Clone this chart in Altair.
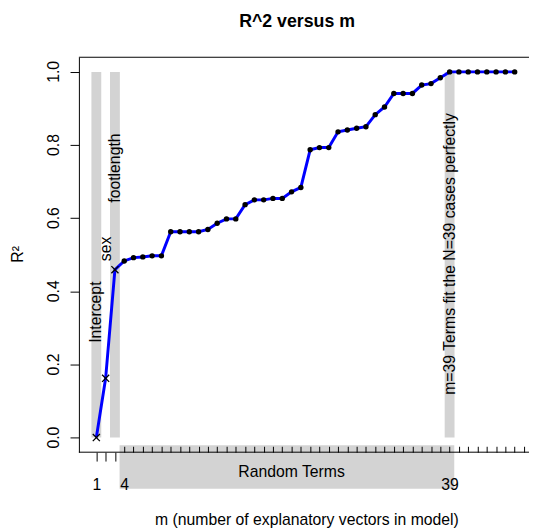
import altair as alt
import pandas as pd

# ---- data ----
m_values = list(range(1, 47))
r2_values = [0.000, 0.162, 0.459, 0.483, 0.492, 0.494, 0.497, 0.497, 0.563, 0.563,
             0.563, 0.563, 0.569, 0.586, 0.598, 0.598, 0.637, 0.650, 0.650, 0.654,
             0.654, 0.672, 0.684, 0.787, 0.793, 0.793, 0.836, 0.841, 0.846, 0.850,
             0.883, 0.904, 0.941, 0.941, 0.941, 0.964, 0.968, 0.984, 1.000, 1.000,
             1.000, 1.000, 1.000, 1.000, 1.000, 1.000]
n_named = 3  # Intercept, sex, footlength drawn as "x"

label_m = [1, 2, 3, 39]
label_text = ["Intercept", "sex", "footlength", "m=39 Terms fit the N=39 cases perfectly"]
label_y = [0.343, 0.516, 0.737, 0.502]

band_m = [1, 3, 39]
band_half = 0.53
band_low, band_high = 0.0, 1.0

random_first, random_last = 4, 39
random_label = "Random Terms"
random_label_m = 22
random_tick_values = list(range(4, 48))

x_tick_values = [1, 2, 3, 4, 39]
y_tick_values = [0.0, 0.2, 0.4, 0.6, 0.8, 1.0]
y_title = "R²"
x_title = "m (number of explanatory vectors in model)"
chart_title = "R^2 versus m"

# plot box (R's usr region) and the full drawing width
box_x = [-0.875, 47.54]
box_y = [-0.04, 1.04]
full_x = [-8.502, 47.54]

# ---- tables ----
df = pd.DataFrame({"m": m_values, "r2": r2_values})
df_dots = df[df["m"] > n_named]
df_x = df[df["m"] <= n_named]
bands = pd.DataFrame({"lo": [b - band_half for b in band_m],
                      "hi": [b + band_half for b in band_m],
                      "bot": [band_low] * len(band_m),
                      "top": [band_high] * len(band_m)})
labels = pd.DataFrame({"m": label_m, "y": label_y, "t": label_text})
rand = pd.DataFrame({"start": [random_first - 0.5], "end": [random_last + 0.5]})
rand_lab = pd.DataFrame({"m": [random_label_m], "t": [random_label]})
ytick_df = pd.DataFrame({"v": y_tick_values})
ytitle_df = pd.DataFrame({"t": [y_title]})
box_df = pd.DataFrame({"x0": [box_x[0]] * 2, "x1": [box_x[1]] * 2, "y": box_y})

W, H = 529, 401
LEFT = 72  # pixels from the drawing's left edge to the plot box
FONT = "Liberation Sans"
FS = 16
xs = alt.Scale(domain=full_x, nice=False, zero=False)
ys = alt.Scale(domain=box_y, nice=False, zero=False)

yaxis = alt.Axis(orient="left", offset=-LEFT, values=y_tick_values, labels=False, tickSize=9,
                 grid=False, domainColor="black", tickColor="black", title=None)

box_layer = alt.Chart(box_df).mark_rule(color="black", strokeWidth=1).encode(
    x=alt.X("x0:Q", scale=xs, axis=None),
    x2="x1:Q",
    y=alt.Y("y:Q", scale=ys, axis=None),
)

bands_layer = alt.Chart(bands).mark_rect(color="#D3D3D3").encode(
    x=alt.X("lo:Q", scale=xs, axis=None),
    x2="hi:Q",
    y=alt.Y("bot:Q", scale=ys, axis=None),
    y2="top:Q",
)

rand_layer = alt.Chart(rand).mark_rect(color="#D3D3D3").encode(
    x=alt.X("start:Q", scale=xs, axis=alt.Axis(orient="top", offset=-H, values=random_tick_values,
                                               tickSize=6, labels=False, grid=False, domain=False,
                                               tickColor="black", title=None, zindex=1)),
    x2="end:Q",
    y=alt.value(394),
    y2=alt.value(438),
)

rand_text = alt.Chart(rand_lab).mark_text(fontSize=FS, font=FONT, color="black",
                                          align="center", baseline="middle").encode(
    x=alt.X("m:Q", scale=xs, axis=None),
    y=alt.value(421),
    text="t:N",
)

xaxis = alt.Axis(orient="bottom", values=x_tick_values, domain=False,
                 labelExpr="(datum.value == 2 || datum.value == 3) ? '' : datum.label",
                 tickOpacity={"condition": {"test": "datum.value > 3", "value": 0}, "value": 1},
                 tickSize=9, labelPadding=16, labelFontSize=FS, labelColor="black",
                 tickColor="black", grid=False, zindex=1,
                 title=x_title, titleX=303, titleY=68,
                 titleAlign="center", titleBaseline="middle", titleFontWeight="normal",
                 titleFontSize=FS, titleColor="black")

line_layer = alt.Chart(df).mark_line(color="#0000FF", strokeWidth=3).encode(
    x=alt.X("m:Q", scale=xs, axis=xaxis),
    y=alt.Y("r2:Q", scale=ys, axis=yaxis),
)

dots_layer = alt.Chart(df_dots).mark_circle(color="black", size=30, opacity=1).encode(
    x=alt.X("m:Q", scale=xs, axis=None),
    y=alt.Y("r2:Q", scale=ys, axis=None),
)

x_layer = alt.Chart(df_x).mark_point(shape="M-1,-1L1,1M-1,1L1,-1", filled=False, color="black",
                                     strokeWidth=1.3, size=52, opacity=1).encode(
    x=alt.X("m:Q", scale=xs, axis=None),
    y=alt.Y("r2:Q", scale=ys, axis=None),
)

text_layer = alt.Chart(labels).mark_text(angle=270, fontSize=FS, font=FONT, color="black",
                                         align="center", baseline="middle").encode(
    x=alt.X("m:Q", scale=xs, axis=None),
    y=alt.Y("y:Q", scale=ys, axis=None),
    text="t:N",
)

# y tick labels, rotated as in the reference, placed through the scales
ytick_layer = alt.Chart(ytick_df).transform_calculate(px="-3.52").mark_text(
    angle=270, fontSize=FS, font=FONT, color="black", align="center", baseline="middle"
).encode(
    x=alt.X("px:Q", scale=xs, axis=None),
    y=alt.Y("v:Q", scale=ys, axis=None),
    text=alt.Text("v:Q", format=".1f"),
)

ytitle_layer = alt.Chart(ytitle_df).transform_calculate(px="-7.44", py="0.501").mark_text(
    angle=270, fontSize=FS, font=FONT, color="black", align="center", baseline="middle"
).encode(
    x=alt.X("px:Q", scale=xs, axis=None),
    y=alt.Y("py:Q", scale=ys, axis=None),
    text="t:N",
)

chart = alt.layer(
    bands_layer, rand_layer, rand_text, text_layer, box_layer, line_layer, dots_layer, x_layer,
    ytick_layer, ytitle_layer
).resolve_axis(x="independent", y="independent").properties(
    width=W, height=H,
    title=alt.TitleParams(chart_title, fontSize=18, fontWeight="bold", font=FONT,
                          anchor="middle", dx=29, offset=26, color="black"),
    autosize=alt.AutoSizeParams(type="none"),
    padding={"left": 0, "top": 46, "right": 0, "bottom": 76},
).configure(font=FONT).configure_view(stroke=None).configure_axis(
    labelFont=FONT, titleFont=FONT
)

chart.save("out.html", embed_options={"renderer": "svg", "actions": False})
